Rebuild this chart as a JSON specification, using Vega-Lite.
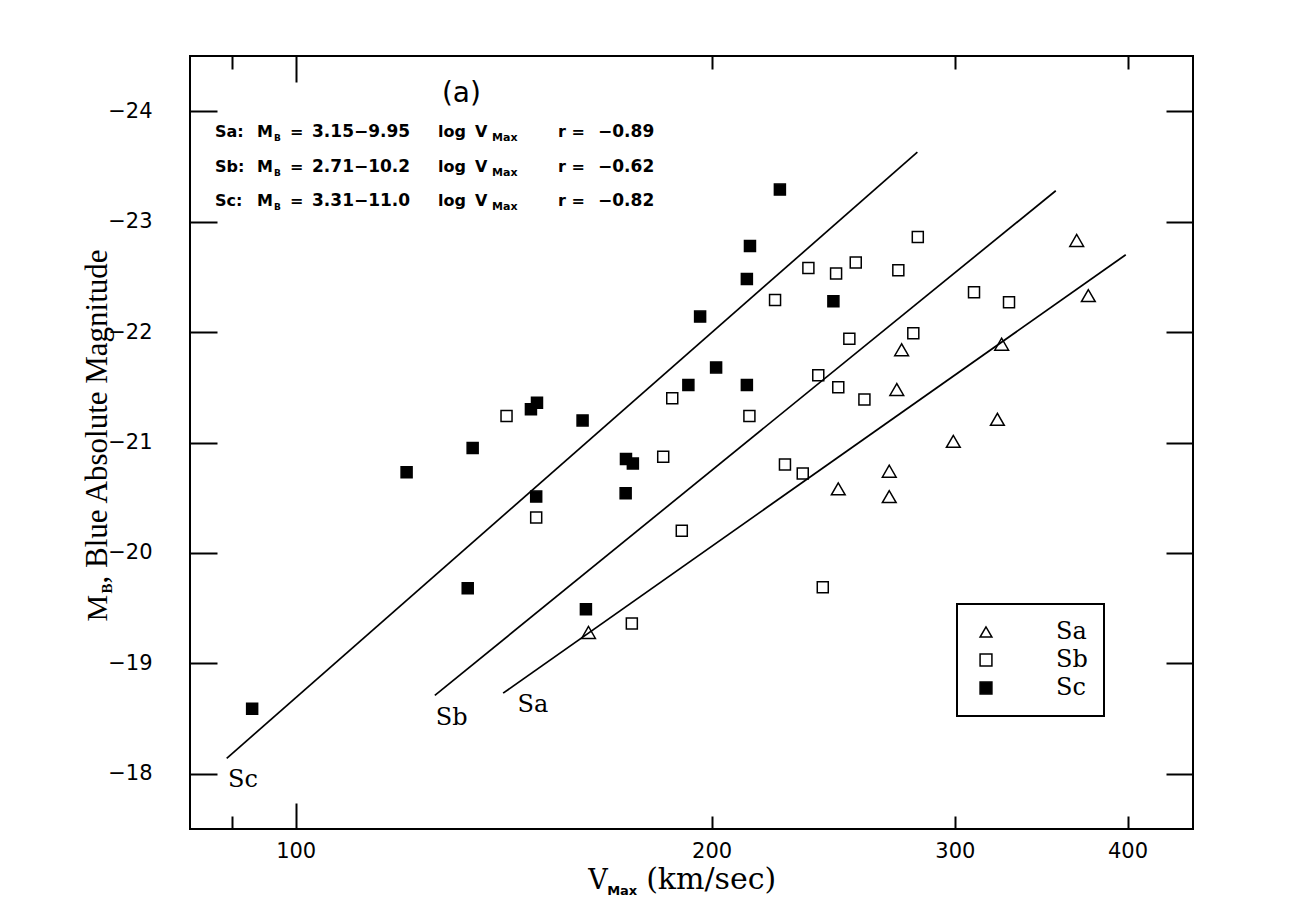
{
  "$schema": "https://vega.github.io/schema/vega-lite/v6.json",
  "width": 1003,
  "height": 773,
  "autosize": "none",
  "padding": {"left": 190, "top": 56, "right": 118, "bottom": 80},
  "background": "white",
  "config": {
    "view": {"stroke": "black", "strokeWidth": 2},
    "axis": {"grid": false, "domain": false, "title": null, "labelFont": "DejaVu Sans", "labelFontSize": 21, "labelColor": "black", "tickColor": "black", "tickWidth": 2},
    "legend": {"strokeWidth": 2}
  },
  "datasets": {
    "galaxies": [
      {"type": "Sa", "v": 162.9, "m": -19.28}, {"type": "Sa", "v": 247.0, "m": -20.58}, {"type": "Sa", "v": 268.9, "m": -20.74},
      {"type": "Sa", "v": 268.9, "m": -20.51}, {"type": "Sa", "v": 299.2, "m": -21.01}, {"type": "Sa", "v": 322.0, "m": -21.21},
      {"type": "Sa", "v": 272.3, "m": -21.48}, {"type": "Sa", "v": 274.5, "m": -21.84}, {"type": "Sa", "v": 324.3, "m": -21.89},
      {"type": "Sa", "v": 367.5, "m": -22.83}, {"type": "Sa", "v": 374.7, "m": -22.33},
      {"type": "Sb", "v": 142.1, "m": -21.24}, {"type": "Sb", "v": 149.3, "m": -20.32}, {"type": "Sb", "v": 184.5, "m": -20.87},
      {"type": "Sb", "v": 187.3, "m": -21.40}, {"type": "Sb", "v": 190.3, "m": -20.20}, {"type": "Sb", "v": 175.1, "m": -19.36},
      {"type": "Sb", "v": 213.0, "m": -21.24}, {"type": "Sb", "v": 222.3, "m": -22.29}, {"type": "Sb", "v": 235.0, "m": -22.58},
      {"type": "Sb", "v": 246.1, "m": -22.53}, {"type": "Sb", "v": 254.3, "m": -22.63}, {"type": "Sb", "v": 273.0, "m": -22.56},
      {"type": "Sb", "v": 282.0, "m": -22.86}, {"type": "Sb", "v": 238.9, "m": -21.61}, {"type": "Sb", "v": 247.0, "m": -21.50},
      {"type": "Sb", "v": 251.6, "m": -21.94}, {"type": "Sb", "v": 258.0, "m": -21.39}, {"type": "Sb", "v": 279.9, "m": -21.99},
      {"type": "Sb", "v": 309.7, "m": -22.36}, {"type": "Sb", "v": 328.3, "m": -22.27}, {"type": "Sb", "v": 226.0, "m": -20.80},
      {"type": "Sb", "v": 232.8, "m": -20.72}, {"type": "Sb", "v": 240.7, "m": -19.69},
      {"type": "Sc", "v": 93.0, "m": -18.59}, {"type": "Sc", "v": 133.2, "m": -19.68}, {"type": "Sc", "v": 120.3, "m": -20.73},
      {"type": "Sc", "v": 134.3, "m": -20.95}, {"type": "Sc", "v": 149.5, "m": -21.36}, {"type": "Sc", "v": 148.0, "m": -21.30},
      {"type": "Sc", "v": 161.3, "m": -21.20}, {"type": "Sc", "v": 162.2, "m": -19.49}, {"type": "Sc", "v": 173.4, "m": -20.85},
      {"type": "Sc", "v": 175.4, "m": -20.81}, {"type": "Sc", "v": 173.3, "m": -20.54}, {"type": "Sc", "v": 149.3, "m": -20.51},
      {"type": "Sc", "v": 192.4, "m": -21.52}, {"type": "Sc", "v": 201.5, "m": -21.68}, {"type": "Sc", "v": 196.2, "m": -22.14},
      {"type": "Sc", "v": 212.1, "m": -21.52}, {"type": "Sc", "v": 212.1, "m": -22.48}, {"type": "Sc", "v": 213.2, "m": -22.78},
      {"type": "Sc", "v": 224.1, "m": -23.29}, {"type": "Sc", "v": 245.0, "m": -22.28}
    ],
    "fits": [
      {"type": "Sa", "v": 141.3, "m": -18.73}, {"type": "Sa", "v": 398.8, "m": -22.70},
      {"type": "Sb", "v": 126.1, "m": -18.71}, {"type": "Sb", "v": 354.9, "m": -23.28},
      {"type": "Sc", "v": 89.14, "m": -18.14}, {"type": "Sc", "v": 281.8, "m": -23.63}
    ],
    "eqs": [
      {"lab": "Sa:", "eq": "3.15−9.95", "r": "−0.89", "v": 87.42, "m": -23.769},
      {"lab": "Sb:", "eq": "2.71−10.2", "r": "−0.62", "v": 87.42, "m": -23.452},
      {"lab": "Sc:", "eq": "3.31−11.0", "r": "−0.82", "v": 87.42, "m": -23.144}
    ],
    "linelabels": [
      {"txt": "Sc", "v": 91.6, "m": -17.88},
      {"txt": "Sb", "v": 129.7, "m": -18.442},
      {"txt": "Sa", "v": 148.5, "m": -18.557}
    ],
    "panel": [{"txt": "(a)", "v": 131.8, "m": -24.086}],
    "xtitle": [{"v": 162.8, "m": -17.5}],
    "ytitle": [{"v": 83.85, "m": -21}]
  },
  "resolve": {"axis": {"x": "independent", "y": "independent"}},
  "layer": [
    {
      "data": {"name": "fits"},
      "mark": {"type": "line", "color": "black", "strokeWidth": 1.7},
      "encoding": {
        "x": {"field": "v", "type": "quantitative", "scale": {"type": "log", "domain": [83.85, 446.1], "nice": false, "zero": false}, "axis": {"orient": "bottom", "values": [90, 200, 300, 400], "labels": false, "tickSize": -13}},
        "y": {"field": "m", "type": "quantitative", "scale": {"domain": [-24.5, -17.5], "reverse": true, "nice": false, "zero": false}, "axis": {"orient": "left", "values": [-24, -23, -22, -21, -20, -19, -18], "labels": false, "tickSize": -27}},
        "detail": {"field": "type", "type": "nominal"}
      }
    },
    {
      "data": {"name": "galaxies"},
      "transform": [{"filter": "datum.type !== 'Sa'"}],
      "mark": {"type": "point", "filled": true, "strokeWidth": 1.5, "opacity": 1, "size": 121},
      "encoding": {
        "x": {"field": "v", "type": "quantitative", "scale": {"type": "log", "domain": [83.85, 446.1], "nice": false, "zero": false}, "axis": {"orient": "bottom", "values": [100, 200, 300, 400], "ticks": false, "labelPadding": 11}},
        "y": {"field": "m", "type": "quantitative", "scale": {"domain": [-24.5, -17.5], "reverse": true, "nice": false, "zero": false}, "axis": {"orient": "left", "values": [-24, -23, -22, -21, -20, -19, -18], "ticks": false, "labelPadding": 38}},
        "shape": {"field": "type", "type": "nominal", "scale": {"domain": ["Sa", "Sb", "Sc"], "range": ["triangle-up", "square", "square"]},
          "legend": {"title": null, "orient": "none", "legendX": 767, "legendY": 548, "padding": 16, "strokeColor": "black", "fillColor": "white", "symbolSize": 140, "symbolStrokeColor": "black", "symbolStrokeWidth": 1.5, "symbolOffset": 1, "labelOffset": 58, "labelFont": "DejaVu Serif", "labelFontSize": 24, "labelColor": "black", "rowPadding": 4, "labelExpr": "datum.label + '\u00a0\u00a0'"}},
        "fill": {"field": "type", "type": "nominal", "scale": {"domain": ["Sa", "Sb", "Sc"], "range": ["transparent", "transparent", "black"]},
          "legend": {"title": null, "orient": "none", "legendX": 767, "legendY": 548, "padding": 16, "strokeColor": "black", "fillColor": "white", "symbolSize": 140, "symbolStrokeColor": "black", "symbolStrokeWidth": 1.5, "symbolOffset": 1, "labelOffset": 58, "labelFont": "DejaVu Serif", "labelFontSize": 24, "labelColor": "black", "rowPadding": 4, "labelExpr": "datum.label + '\u00a0\u00a0'"}},
        "stroke": {"field": "type", "type": "nominal", "scale": {"domain": ["Sa", "Sb", "Sc"], "range": ["black", "black", "black"]},
          "legend": {"title": null, "orient": "none", "legendX": 767, "legendY": 548, "padding": 16, "strokeColor": "black", "fillColor": "white", "symbolSize": 140, "symbolStrokeColor": "black", "symbolStrokeWidth": 1.5, "symbolOffset": 1, "labelOffset": 58, "labelFont": "DejaVu Serif", "labelFontSize": 24, "labelColor": "black", "rowPadding": 4, "labelExpr": "datum.label + '\u00a0\u00a0'"}}
      }
    },
    {
      "data": {"name": "galaxies"},
      "transform": [{"filter": "datum.type === 'Sa'"}],
      "mark": {"type": "point", "filled": true, "strokeWidth": 1.5, "opacity": 1, "size": 190},
      "encoding": {
        "x": {"field": "v", "type": "quantitative", "scale": {"type": "log", "domain": [83.85, 446.1], "nice": false, "zero": false}, "axis": null},
        "y": {"field": "m", "type": "quantitative", "scale": {"domain": [-24.5, -17.5], "reverse": true, "nice": false, "zero": false}, "axis": null},
        "shape": {"field": "type", "type": "nominal", "scale": {"domain": ["Sa", "Sb", "Sc"], "range": ["triangle-up", "square", "square"]},
          "legend": {"title": null, "orient": "none", "legendX": 767, "legendY": 548, "padding": 16, "strokeColor": "black", "fillColor": "white", "symbolSize": 140, "symbolStrokeColor": "black", "symbolStrokeWidth": 1.5, "symbolOffset": 1, "labelOffset": 58, "labelFont": "DejaVu Serif", "labelFontSize": 24, "labelColor": "black", "rowPadding": 4, "labelExpr": "datum.label + '\u00a0\u00a0'"}},
        "fill": {"field": "type", "type": "nominal", "scale": {"domain": ["Sa", "Sb", "Sc"], "range": ["transparent", "transparent", "black"]},
          "legend": {"title": null, "orient": "none", "legendX": 767, "legendY": 548, "padding": 16, "strokeColor": "black", "fillColor": "white", "symbolSize": 140, "symbolStrokeColor": "black", "symbolStrokeWidth": 1.5, "symbolOffset": 1, "labelOffset": 58, "labelFont": "DejaVu Serif", "labelFontSize": 24, "labelColor": "black", "rowPadding": 4, "labelExpr": "datum.label + '\u00a0\u00a0'"}},
        "stroke": {"field": "type", "type": "nominal", "scale": {"domain": ["Sa", "Sb", "Sc"], "range": ["black", "black", "black"]},
          "legend": {"title": null, "orient": "none", "legendX": 767, "legendY": 548, "padding": 16, "strokeColor": "black", "fillColor": "white", "symbolSize": 140, "symbolStrokeColor": "black", "symbolStrokeWidth": 1.5, "symbolOffset": 1, "labelOffset": 58, "labelFont": "DejaVu Serif", "labelFontSize": 24, "labelColor": "black", "rowPadding": 4, "labelExpr": "datum.label + '\u00a0\u00a0'"}}
      }
    },
    {
      "data": {"name": "linelabels"},
      "mark": {"type": "text", "font": "DejaVu Serif", "fontSize": 24, "align": "center", "baseline": "alphabetic", "color": "black"},
      "encoding": {
        "x": {"field": "v", "type": "quantitative", "scale": {"type": "log", "domain": [83.85, 446.1], "nice": false, "zero": false}, "axis": {"orient": "top", "values": [90, 200, 300, 400], "labels": false, "tickSize": -13}},
        "y": {"field": "m", "type": "quantitative", "scale": {"domain": [-24.5, -17.5], "reverse": true, "nice": false, "zero": false}, "axis": {"orient": "right", "values": [-24, -23, -22, -21, -20, -19, -18], "labels": false, "tickSize": -27}},
        "text": {"field": "txt"}
      }
    },
    {
      "data": {"name": "panel"},
      "mark": {"type": "text", "font": "DejaVu Sans", "fontSize": 28, "align": "center", "baseline": "alphabetic", "color": "black"},
      "encoding": {
        "x": {"field": "v", "type": "quantitative", "scale": {"type": "log", "domain": [83.85, 446.1], "nice": false, "zero": false}, "axis": {"orient": "bottom", "values": [100], "labels": false, "tickSize": -26}},
        "y": {"field": "m", "type": "quantitative", "scale": {"domain": [-24.5, -17.5], "reverse": true, "nice": false, "zero": false}, "axis": null},
        "text": {"field": "txt"}
      }
    },
    {
      "data": {"name": "eqs"},
      "mark": {"type": "text", "font": "DejaVu Sans", "fontSize": 16, "fontWeight": "bold", "align": "left", "baseline": "alphabetic", "color": "black", "dx": 0},
      "encoding": {
        "x": {"field": "v", "type": "quantitative", "scale": {"type": "log", "domain": [83.85, 446.1], "nice": false, "zero": false}, "axis": {"orient": "top", "values": [100], "labels": false, "tickSize": -26}},
        "y": {"field": "m", "type": "quantitative", "scale": {"domain": [-24.5, -17.5], "reverse": true, "nice": false, "zero": false}, "axis": null},
        "text": {"field": "lab"}
      }
    },
    {
      "data": {"name": "eqs"},
      "mark": {"type": "text", "font": "DejaVu Sans", "fontSize": 16, "fontWeight": "bold", "align": "left", "baseline": "alphabetic", "color": "black", "dx": 42},
      "encoding": {
        "x": {"field": "v", "type": "quantitative", "axis": null},
        "y": {"field": "m", "type": "quantitative", "axis": null},
        "text": {"value": "M"}
      }
    },
    {
      "data": {"name": "eqs"},
      "mark": {"type": "text", "font": "DejaVu Sans", "fontSize": 9, "fontWeight": "bold", "align": "left", "baseline": "alphabetic", "color": "black", "dx": 59, "dy": 4},
      "encoding": {
        "x": {"field": "v", "type": "quantitative", "axis": null},
        "y": {"field": "m", "type": "quantitative", "axis": null},
        "text": {"value": "B"}
      }
    },
    {
      "data": {"name": "eqs"},
      "mark": {"type": "text", "font": "DejaVu Sans", "fontSize": 16, "fontWeight": "bold", "align": "left", "baseline": "alphabetic", "color": "black", "dx": 75},
      "encoding": {
        "x": {"field": "v", "type": "quantitative", "axis": null},
        "y": {"field": "m", "type": "quantitative", "axis": null},
        "text": {"value": "="}
      }
    },
    {
      "data": {"name": "eqs"},
      "mark": {"type": "text", "font": "DejaVu Sans", "fontSize": 17, "fontWeight": "bold", "align": "left", "baseline": "alphabetic", "color": "black", "dx": 97},
      "encoding": {
        "x": {"field": "v", "type": "quantitative", "axis": null},
        "y": {"field": "m", "type": "quantitative", "axis": null},
        "text": {"field": "eq"}
      }
    },
    {
      "data": {"name": "eqs"},
      "mark": {"type": "text", "font": "DejaVu Sans", "fontSize": 16, "fontWeight": "bold", "align": "left", "baseline": "alphabetic", "color": "black", "dx": 223},
      "encoding": {
        "x": {"field": "v", "type": "quantitative", "axis": null},
        "y": {"field": "m", "type": "quantitative", "axis": null},
        "text": {"value": "log"}
      }
    },
    {
      "data": {"name": "eqs"},
      "mark": {"type": "text", "font": "DejaVu Sans", "fontSize": 16, "fontWeight": "bold", "align": "left", "baseline": "alphabetic", "color": "black", "dx": 260},
      "encoding": {
        "x": {"field": "v", "type": "quantitative", "axis": null},
        "y": {"field": "m", "type": "quantitative", "axis": null},
        "text": {"value": "V"}
      }
    },
    {
      "data": {"name": "eqs"},
      "mark": {"type": "text", "font": "DejaVu Sans", "fontSize": 11, "fontWeight": "bold", "align": "left", "baseline": "alphabetic", "color": "black", "dx": 277, "dy": 4},
      "encoding": {
        "x": {"field": "v", "type": "quantitative", "axis": null},
        "y": {"field": "m", "type": "quantitative", "axis": null},
        "text": {"value": "Max"}
      }
    },
    {
      "data": {"name": "eqs"},
      "mark": {"type": "text", "font": "DejaVu Sans", "fontSize": 16, "fontWeight": "bold", "align": "left", "baseline": "alphabetic", "color": "black", "dx": 343},
      "encoding": {
        "x": {"field": "v", "type": "quantitative", "axis": null},
        "y": {"field": "m", "type": "quantitative", "axis": null},
        "text": {"value": "r ="}
      }
    },
    {
      "data": {"name": "eqs"},
      "mark": {"type": "text", "font": "DejaVu Sans", "fontSize": 17, "fontWeight": "bold", "align": "left", "baseline": "alphabetic", "color": "black", "dx": 383},
      "encoding": {
        "x": {"field": "v", "type": "quantitative", "axis": null},
        "y": {"field": "m", "type": "quantitative", "axis": null},
        "text": {"field": "r"}
      }
    },
    {
      "data": {"name": "xtitle"},
      "mark": {"type": "text", "font": "DejaVu Serif", "fontSize": 27, "align": "left", "baseline": "alphabetic", "color": "black", "dx": 0, "dy": 60},
      "encoding": {
        "x": {"field": "v", "type": "quantitative", "axis": null},
        "y": {"field": "m", "type": "quantitative", "axis": null},
        "text": {"value": "V"}
      }
    },
    {
      "data": {"name": "xtitle"},
      "mark": {"type": "text", "font": "DejaVu Sans", "fontSize": 13, "fontWeight": "bold", "align": "left", "baseline": "alphabetic", "color": "black", "dx": 19, "dy": 66},
      "encoding": {
        "x": {"field": "v", "type": "quantitative", "axis": null},
        "y": {"field": "m", "type": "quantitative", "axis": null},
        "text": {"value": "Max"}
      }
    },
    {
      "data": {"name": "xtitle"},
      "mark": {"type": "text", "font": "DejaVu Serif", "fontSize": 30, "align": "left", "baseline": "alphabetic", "color": "black", "dx": 58, "dy": 60},
      "encoding": {
        "x": {"field": "v", "type": "quantitative", "axis": null},
        "y": {"field": "m", "type": "quantitative", "axis": null},
        "text": {"value": "(km/sec)"}
      }
    },
    {
      "data": {"name": "ytitle"},
      "mark": {"type": "text", "font": "Liberation Serif", "fontSize": 30, "angle": 270, "align": "left", "baseline": "alphabetic", "color": "black", "dx": -179, "dy": -83},
      "encoding": {
        "x": {"field": "v", "type": "quantitative", "axis": null},
        "y": {"field": "m", "type": "quantitative", "axis": null},
        "text": {"value": "M"}
      }
    },
    {
      "data": {"name": "ytitle"},
      "mark": {"type": "text", "font": "Liberation Serif", "fontSize": 15, "fontWeight": "bold", "angle": 270, "align": "left", "baseline": "alphabetic", "color": "black", "dx": -151, "dy": -78},
      "encoding": {
        "x": {"field": "v", "type": "quantitative", "axis": null},
        "y": {"field": "m", "type": "quantitative", "axis": null},
        "text": {"value": "B"}
      }
    },
    {
      "data": {"name": "ytitle"},
      "mark": {"type": "text", "font": "Liberation Serif", "fontSize": 31, "angle": 270, "align": "left", "baseline": "alphabetic", "color": "black", "dx": -141, "dy": -83},
      "encoding": {
        "x": {"field": "v", "type": "quantitative", "axis": null},
        "y": {"field": "m", "type": "quantitative", "axis": null},
        "text": {"value": ", Blue Absolute Magnitude"}
      }
    }
  ]
}
